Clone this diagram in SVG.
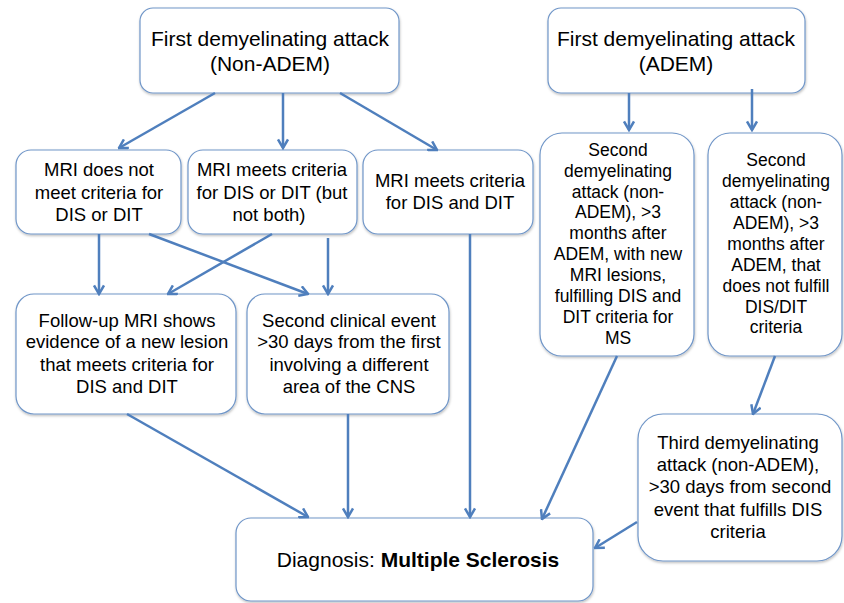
<svg xmlns="http://www.w3.org/2000/svg" width="844" height="603" viewBox="0 0 844 603">
<style>
.box{fill:#fff;stroke:#7096c8;stroke-width:1.2;filter:url(#sh)}
text{font-family:"Liberation Sans",Arial,Helvetica,sans-serif;fill:#000;text-anchor:middle}
.t21{font-size:21px}
.t18{font-size:18.5px}
.t17{font-size:17.5px}
.con line{stroke:#4f7fbd;stroke-width:2.5;marker-end:url(#ah)}
</style>
<defs>
<filter id="sh" x="-5%" y="-5%" width="110%" height="115%">
<feDropShadow dx="0.5" dy="1.5" stdDeviation="1" flood-color="#000" flood-opacity="0.25"/>
</filter>
<marker id="ah" viewBox="0 0 12 12" refX="10.5" refY="6" markerWidth="12" markerHeight="12" markerUnits="userSpaceOnUse" orient="auto">
<path d="M2,1 L10.5,6 L2,11" fill="none" stroke="#4f7fbd" stroke-width="2.5"/>
</marker>
</defs>
<rect width="844" height="603" fill="#fff"/>
<g id="n1"><rect class="box" x="140" y="8" width="259" height="85" rx="13"/>
<text class="t21" x="270" y="46">First demyelinating attack</text>
<text class="t21" x="270" y="71">(Non-ADEM)</text></g>
<g id="n2"><rect class="box" x="548" y="8" width="257" height="85" rx="13"/>
<text class="t21" x="676" y="46">First demyelinating attack</text>
<text class="t21" x="676" y="71">(ADEM)</text></g>
<g id="n3"><rect class="box" x="16" y="150" width="165" height="84" rx="15"/>
<text class="t18" x="99" y="176">MRI does not</text>
<text class="t18" x="99" y="199">meet criteria for</text>
<text class="t18" x="99" y="221">DIS or DIT</text></g>
<g id="n4"><rect class="box" x="188" y="150" width="169" height="84" rx="15"/>
<text class="t18" x="272" y="176">MRI meets criteria</text>
<text class="t18" x="272" y="199">for DIS or DIT (but</text>
<text class="t18" x="269" y="221">not both)</text></g>
<g id="n5"><rect class="box" x="363" y="150" width="170" height="84" rx="15"/>
<text class="t18" x="450" y="187">MRI meets criteria</text>
<text class="t18" x="450" y="209">for DIS and DIT</text></g>
<g id="n6"><rect class="box" x="540" y="133" width="154" height="223" rx="22"/>
<text class="t17" x="618" y="156">Second</text>
<text class="t17" x="618" y="177">demyelinating</text>
<text class="t17" x="618" y="198">attack (non-</text>
<text class="t17" x="618" y="218">ADEM), &gt;3</text>
<text class="t17" x="618" y="239">months after</text>
<text class="t17" x="618" y="260">ADEM, with new</text>
<text class="t17" x="618" y="281">MRI lesions,</text>
<text class="t17" x="618" y="302">fulfilling DIS and</text>
<text class="t17" x="618" y="323">DIT criteria for</text>
<text class="t17" x="618" y="344">MS</text></g>
<g id="n7"><rect class="box" x="708" y="133" width="134" height="223" rx="22"/>
<text class="t17" x="776" y="166">Second</text>
<text class="t17" x="776" y="187">demyelinating</text>
<text class="t17" x="776" y="208">attack (non-</text>
<text class="t17" x="776" y="229">ADEM), &gt;3</text>
<text class="t17" x="776" y="250">months after</text>
<text class="t17" x="776" y="271">ADEM, that</text>
<text class="t17" x="776" y="292">does not fulfill</text>
<text class="t17" x="776" y="313">DIS/DIT</text>
<text class="t17" x="776" y="333">criteria</text></g>
<g id="n8"><rect class="box" x="16" y="294" width="220" height="120" rx="18"/>
<text class="t18" x="127" y="327">Follow-up MRI shows</text>
<text class="t18" x="127" y="348">evidence of a new lesion</text>
<text class="t18" x="127" y="371">that meets criteria for</text>
<text class="t18" x="127" y="393">DIS and DIT</text></g>
<g id="n9"><rect class="box" x="247" y="294" width="202" height="120" rx="18"/>
<text class="t18" x="349" y="327">Second clinical event</text>
<text class="t18" x="349" y="348">&gt;30 days from the first</text>
<text class="t18" x="349" y="371">involving a different</text>
<text class="t18" x="349" y="393">area of the CNS</text></g>
<g id="n10"><rect class="box" x="638" y="414" width="204" height="147" rx="25"/>
<text class="t18" x="738" y="449">Third demyelinating</text>
<text class="t18" x="738" y="471">attack (non-ADEM),</text>
<text class="t18" x="740" y="493">&gt;30 days from second</text>
<text class="t18" x="738" y="516">event that fulfills DIS</text>
<text class="t18" x="738" y="538">criteria</text></g>
<g id="n11"><rect class="box" x="236" y="518" width="357" height="83" rx="15"/>
<text class="t21" x="418" y="567">Diagnosis: <tspan font-weight="bold">Multiple Sclerosis</tspan></text></g>
<g id="connectors" class="con">
<line x1="215" y1="93" x2="119" y2="148"/>
<line x1="283" y1="93" x2="283" y2="148"/>
<line x1="340" y1="93" x2="437" y2="150"/>
<line x1="629" y1="93" x2="629" y2="130"/>
<line x1="752" y1="89" x2="752" y2="130"/>
<line x1="99" y1="234" x2="99" y2="294"/>
<line x1="149" y1="234" x2="308" y2="294"/>
<line x1="272" y1="234" x2="168" y2="294"/>
<line x1="328" y1="238" x2="328" y2="294"/>
<line x1="470" y1="234" x2="470" y2="517"/>
<line x1="127" y1="414" x2="308" y2="517"/>
<line x1="348" y1="414" x2="348" y2="517"/>
<line x1="617" y1="356" x2="542" y2="519"/>
<line x1="775" y1="356" x2="753" y2="414"/>
<line x1="637" y1="522" x2="595" y2="548"/>
</g>
</svg>
